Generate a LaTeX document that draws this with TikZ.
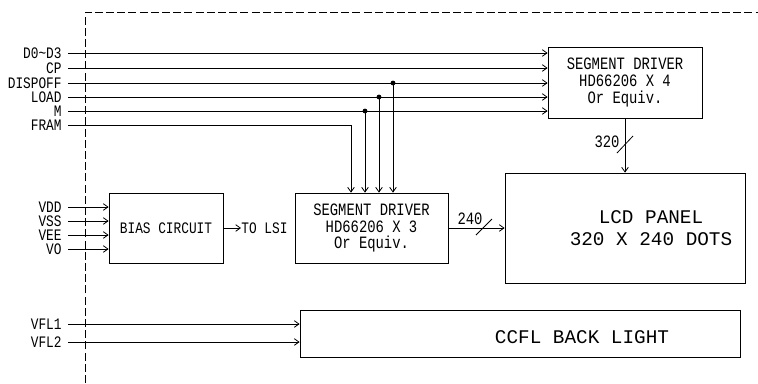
\documentclass[tikz,border=0pt]{standalone}
\usepackage{fontspec}
\setmainfont{Liberation Mono}
\newfontfamily\narrowfont[FakeStretch=0.8]{Liberation Mono}
\usetikzlibrary{arrows.meta}
\begin{document}
\begin{tikzpicture}[x=0.75pt,y=-0.75pt,line width=0.6pt,
  sig/.style={-{Straight Barb[length=3.5pt,width=5pt]}},
  blk/.style={draw,inner sep=0pt,align=center},
  sigtext/.style={anchor=east,inner xsep=4.5pt,inner ysep=0pt,font=\narrowfont\fontsize{12}{12}\selectfont},
  vtext/.style={sigtext,font=\narrowfont\fontsize{12}{12}\selectfont},
  chip/.style={font=\narrowfont\fontsize{13}{12.4}\selectfont},
  note/.style={font=\narrowfont\fontsize{12}{13}\selectfont},
  big/.style={align=center,font=\fontsize{14.5}{17}\selectfont},
  bus/.style={inner sep=0pt,font=\narrowfont\fontsize{13}{14}\selectfont},
  boundary/.style={dash pattern=on 6pt off 2.4pt,line width=0.5pt}]
\useasboundingbox (0,0) rectangle (758,383);
\draw[boundary] (85,383) |- (758,12);
\node[blk,chip,minimum width=115.5pt,minimum height=53.25pt] (segtop) at (625,82.5) {SEGMENT DRIVER\\HD66206 X 4\\Or Equiv.};
\node[blk,chip,minimum width=114.75pt,minimum height=52.5pt] (segbot) at (371.5,228) {SEGMENT DRIVER\\HD66206 X 3\\Or Equiv.};
\node[blk,note,minimum width=85.5pt,minimum height=52.5pt] (bias) at (166,228) {BIAS CIRCUIT};
\node[blk,minimum width=180pt,minimum height=82.5pt] (lcd) at (625,228) {};
\node[big] (lcdtext) at (651,228) {LCD PANEL\\320 X 240 DOTS};
\node[blk,minimum width=330pt,minimum height=35.25pt] (ccfl) at (520,333.5) {};
\node[big] (ccfltext) at (582,337) {CCFL BACK LIGHT};
\node[note,anchor=west,inner xsep=0pt] (tolsi) at (241,228) {TO LSI};
\node[sigtext] (d03) at (68,53) {D0\textasciitilde D3};
\node[sigtext] (cp) at (68,68) {CP};
\node[sigtext] (dispoff) at (68,83) {DISPOFF};
\node[sigtext] (load) at (68,97) {LOAD};
\node[sigtext] (m) at (68,111) {M};
\node[sigtext] (fram) at (68,125) {FRAM};
\node[vtext] (vdd) at (68,207) {VDD};
\node[vtext] (vss) at (68,221) {VSS};
\node[vtext] (vee) at (68,235) {VEE};
\node[vtext] (vo) at (68,249) {VO};
\node[sigtext] (vfl1) at (68,324) {VFL1};
\node[sigtext] (vfl2) at (68,342) {VFL2};
\node[bus] (n240) at (470,219) {240};
\node[bus] (n320) at (607,142) {320};
\coordinate (tdisp) at (393,83);
\coordinate (tload) at (379,97);
\coordinate (tm) at (365,111);
\coordinate (tfram) at (351,125);
\coordinate (s240) at (484,227);
\coordinate (s320) at (625,145);
\draw[sig] (d03.east) -- (d03.east -| segtop.west);
\draw[sig] (cp.east) -- (cp.east -| segtop.west);
\draw[sig] (dispoff.east) -- (dispoff.east -| segtop.west);
\draw[sig] (load.east) -- (load.east -| segtop.west);
\draw[sig] (m.east) -- (m.east -| segtop.west);
\draw[sig] (fram.east) -- (tfram) -- (tfram |- segbot.north);
\draw[sig] (tm) -- (tm |- segbot.north);
\draw[sig] (tload) -- (tload |- segbot.north);
\draw[sig] (tdisp) -- (tdisp |- segbot.north);
\fill (tm) circle (1.8pt);
\fill (tload) circle (1.8pt);
\fill (tdisp) circle (1.8pt);
\draw[sig] (vdd.east) -- (vdd.east -| bias.west);
\draw[sig] (vss.east) -- (vss.east -| bias.west);
\draw[sig] (vee.east) -- (vee.east -| bias.west);
\draw[sig] (vo.east) -- (vo.east -| bias.west);
\draw[sig] (bias.east) -- (tolsi.west);
\draw[sig] (segbot.east) -- (segbot.east -| lcd.west);
\draw[sig] (segtop.south) -- (segtop.south |- lcd.north);
\draw (s240) ++(-8,8) -- ++(16,-16);
\draw (s320) ++(-8,8) -- ++(16,-17);
\draw[sig] (vfl1.east) -- (vfl1.east -| ccfl.west);
\draw[sig] (vfl2.east) -- (vfl2.east -| ccfl.west);
\end{tikzpicture}
\end{document}
